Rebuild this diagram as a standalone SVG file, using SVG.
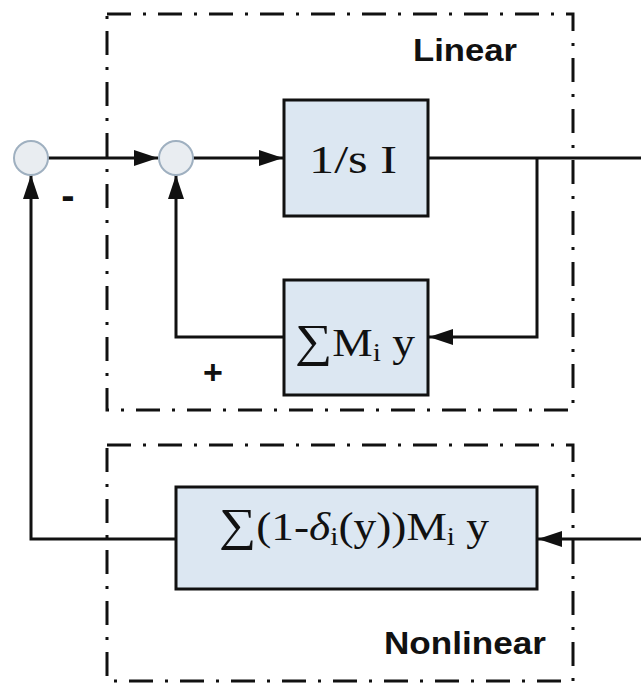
<svg xmlns="http://www.w3.org/2000/svg" width="641" height="683" viewBox="0 0 641 683">
<style>
.region{fill:none;stroke:#111;stroke-width:3;stroke-dasharray:24 12 3 12}
.blk{fill:#dce7f2;stroke:#111;stroke-width:3}
.sum{fill:#e9edf1;stroke:#9fb0c0;stroke-width:2}
.wire{fill:none;stroke:#111;stroke-width:3}
.lbl{font-family:"Liberation Sans",Arial,sans-serif;font-weight:bold;fill:#111}
.math{font-family:"Liberation Serif","Times New Roman",serif;fill:#111}
</style>
<defs>
<marker id="ah" markerUnits="userSpaceOnUse" markerWidth="24" markerHeight="16" refX="24" refY="8" orient="auto">
<path d="M0,0 L24,8 L0,16 z" fill="#111"/>
</marker>
</defs>
<rect width="641" height="683" fill="#fff"/>
<g id="linear-region">
<rect class="region" x="107" y="14" width="466" height="396"/>
<text class="lbl" x="413" y="61" font-size="32" textLength="104" lengthAdjust="spacingAndGlyphs">Linear</text>
</g>
<g id="nonlinear-region">
<rect class="region" x="107" y="445" width="466" height="236"/>
<text class="lbl" x="384" y="654" font-size="32" textLength="162" lengthAdjust="spacingAndGlyphs">Nonlinear</text>
</g>
<g id="connectors">
<path class="wire" d="M48,158 L158,158" marker-end="url(#ah)"/>
<path class="wire" d="M193,158 L283,158" marker-end="url(#ah)"/>
<path class="wire" d="M428,158 L641,158"/>
<path class="wire" d="M537,158 L537,337 L429,337" marker-end="url(#ah)"/>
<path class="wire" d="M284,337 L176,337 L176,175" marker-end="url(#ah)"/>
<path class="wire" d="M641,539 L538,539" marker-end="url(#ah)"/>
<path class="wire" d="M176,539 L31,539 L31,175" marker-end="url(#ah)"/>
</g>
<g id="sum1">
<circle class="sum" cx="31" cy="158" r="17"/>
<text class="lbl" x="68" y="209" font-size="40" text-anchor="middle">-</text>
</g>
<g id="sum2">
<circle class="sum" cx="176" cy="158" r="17"/>
<text class="lbl" x="213" y="384" font-size="34" text-anchor="middle">+</text>
</g>
<g id="integrator">
<rect class="blk" x="284" y="100" width="144" height="116"/>
<text class="math" x="309" y="173" font-size="40" textLength="88" lengthAdjust="spacingAndGlyphs">1/s I</text>
</g>
<g id="linear-gain">
<rect class="blk" x="284" y="280" width="144" height="115"/>
<text class="math" x="295" y="356" font-size="40" textLength="120" lengthAdjust="spacingAndGlyphs"><tspan font-size="46">∑</tspan>M<tspan font-size="26" dy="5">i</tspan><tspan dy="-5"> y</tspan></text>
</g>
<g id="nonlinear-gain">
<rect class="blk" x="176" y="487" width="361" height="102"/>
<text class="math" x="219" y="540" font-size="40" textLength="270" lengthAdjust="spacingAndGlyphs"><tspan font-size="46">∑</tspan>(1-<tspan font-style="italic">δ</tspan><tspan font-size="26" dy="5">i</tspan><tspan dy="-5">(y))M</tspan><tspan font-size="26" dy="5">i</tspan><tspan dy="-5"> y</tspan></text>
</g>
</svg>
